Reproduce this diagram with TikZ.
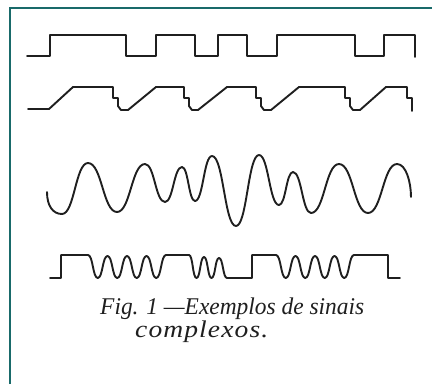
\documentclass[tikz,border=0pt]{standalone}
\usepackage{fontspec}
\setmainfont{Liberation Serif}
\begin{document}
\begin{tikzpicture}[x=1pt,y=-1pt,
  sig/.style={line width=1.9pt, line join=round, line cap=round, draw=black!88},
  frameline/.style={line width=2pt, draw=teal!70!black!90},
  captext/.style={font=\itshape\fontsize{24}{28}\selectfont, inner sep=0pt, anchor=base west, text=black!88}]
\useasboundingbox (0,0) rectangle (432,384);
\fill[white] (0,0) rectangle (432,384);
% frame
\draw[frameline] (10,384) -- (10,7.5) -- (432,7.5);
% signal 1: square wave
\draw[sig] (27,56) -- (50,56) -- (50,35) -- (126,35) -- (126,56) -- (156,56) -- (156,35)
  -- (195,35) -- (195,56) -- (218,56) -- (218,35) -- (247,35) -- (247,56) -- (277,56)
  -- (277,35) -- (355,35) -- (355,56) -- (384,56) -- (384,35) -- (415,35) -- (415,57);
% signal 2: ramps with steps
\draw[sig] (28,109) -- (49,109) -- (73,87) -- (113,87) -- (113,98) -- (118,98) -- (118,106)
  -- (121,110) -- (128,110) -- (156,87) -- (184,87) -- (184,98) -- (189,98) -- (189,106)
  -- (192,110) -- (198,110) -- (227,87) -- (256,87) -- (256,98) -- (261,98) -- (261,106)
  -- (264,110) -- (271,110) -- (299,87) -- (345,87) -- (345,98) -- (350,98) -- (350,106)
  -- (353,110) -- (360,110) -- (386,87) -- (407,87) -- (407,98) -- (412,98) -- (412,111);
% signal 3: smooth complex wave
\draw[sig] (47,192) .. controls (47,206) and (53,214) .. (62,214)
  .. controls +(12.5,0) and +(-12.5,0) .. (88,163)
  .. controls +(14,0) and +(-14,0) .. (117,212)
  .. controls +(13.5,0) and +(-13.5,0) .. (145,164)
  .. controls +(9.6,0) and +(-9.6,0) .. (165,202)
  .. controls +(8.2,0) and +(-8.2,0) .. (182,167)
  .. controls +(6.3,0) and +(-6.3,0) .. (195,201)
  .. controls +(8.2,0) and +(-8.2,0) .. (212,156)
  .. controls +(11.5,0) and +(-11.5,0) .. (236,226)
  .. controls +(11,0) and +(-11,0) .. (259,155)
  .. controls +(9.6,0) and +(-9.6,0) .. (279,205)
  .. controls +(6.8,0) and +(-6.8,0) .. (293,172)
  .. controls +(8.7,0) and +(-8.7,0) .. (311,213)
  .. controls +(13.5,0) and +(-13.5,0) .. (339,164)
  .. controls +(14,0) and +(-14,0) .. (368,213)
  .. controls +(14,0) and +(-14,0) .. (397,164)
  .. controls (406,164) and (411,182) .. (411,197);
% signal 4: bursts
\draw[sig] (50,278) -- (61,278) -- (61,255) -- (88,255)
  .. controls +(5,0) and +(-5,0) .. (97.75,278)
  .. controls +(5,0) and +(-5,0) .. (107.5,256)
  .. controls +(5,0) and +(-5,0) .. (117.25,278)
  .. controls +(5,0) and +(-5,0) .. (127,256)
  .. controls +(5,0) and +(-5,0) .. (136.75,278)
  .. controls +(5,0) and +(-5,0) .. (146.5,256)
  .. controls +(5,0) and +(-5,0) .. (156.25,278)
  .. controls +(5,0) and +(-5,0) .. (166,255)
  -- (189,255)
  .. controls +(3.9,0) and +(-3.9,0) .. (196.5,278)
  .. controls +(3.9,0) and +(-3.9,0) .. (204,257)
  .. controls +(3.9,0) and +(-3.9,0) .. (211.5,278)
  .. controls +(3.9,0) and +(-3.9,0) .. (219,258)
  .. controls +(4.1,0) and +(-4.1,0) .. (227,278)
  -- (252,278) -- (252,255) -- (276,255)
  .. controls +(5,0) and +(-5,0) .. (285.75,278)
  .. controls +(5,0) and +(-5,0) .. (295.5,256)
  .. controls +(5,0) and +(-5,0) .. (305.25,278)
  .. controls +(5,0) and +(-5,0) .. (315,256)
  .. controls +(5,0) and +(-5,0) .. (324.75,278)
  .. controls +(5,0) and +(-5,0) .. (334.5,256)
  .. controls +(5,0) and +(-5,0) .. (344.25,278)
  .. controls +(5,0) and +(-5,0) .. (354,255)
  -- (388,255) -- (388,278) -- (400,278);
% caption
\node[captext] (cap1) at (100,314) {\resizebox{264pt}{\height}{Fig. 1 —Exemplos de sinais}};
\node[captext] (cap2) at (135,337) {\resizebox{133pt}{\height}{\addfontfeatures{LetterSpace=4}complexos.}};
\end{tikzpicture}
\end{document}
